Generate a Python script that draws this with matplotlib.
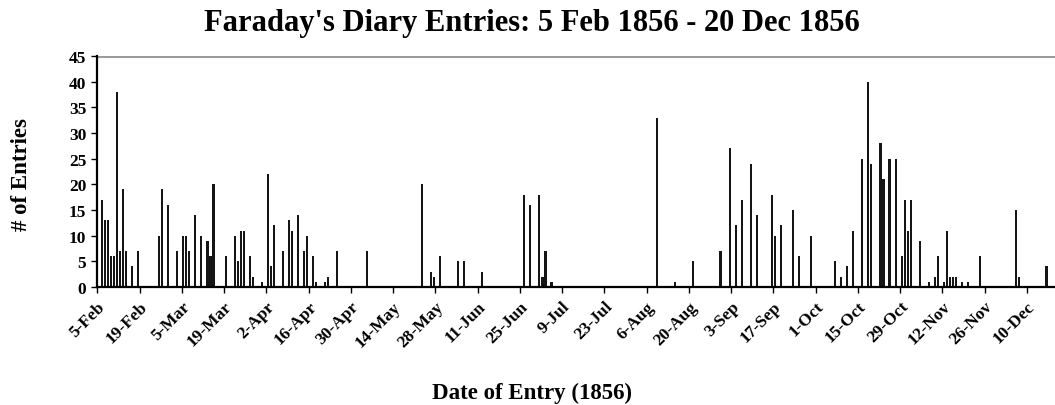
import matplotlib
matplotlib.use("Agg")
import matplotlib.pyplot as plt

# Day offsets from 5 Feb 1856 and number of diary entries on that day
day_offset = [1, 2, 3, 4, 5, 6, 7, 8, 9, 11, 13,
              20, 21, 23, 26, 28, 29, 30, 32, 34, 36, 37, 38,
              42, 45, 46, 47, 48, 50, 51, 54, 56, 57, 58, 61, 63, 64, 66, 68, 69,
              71, 72, 75, 76, 79, 89,
              107, 110, 111, 113, 119, 121, 127, 141, 143, 146, 147, 148, 150,
              185, 191, 197, 206, 209, 211, 213, 216, 218, 223, 224, 226, 230, 232, 236,
              244, 246, 248, 250, 253, 255, 256, 259, 260, 262, 264, 266, 267, 268, 269,
              272, 275, 277, 278, 280, 281, 282, 283, 284, 286, 288, 292, 304, 305, 314]
entries = [17, 13, 13, 6, 6, 38, 7, 19, 7, 4, 7,
           10, 19, 16, 7, 10, 10, 7, 14, 10, 9, 6, 20,
           6, 10, 5, 11, 11, 6, 2, 1, 22, 4, 12, 7, 13, 11, 14, 7, 10,
           6, 1, 1, 2, 7, 7,
           20, 3, 2, 6, 5, 5, 3, 18, 16, 18, 2, 7, 1,
           33, 1, 5, 7, 27, 12, 17, 24, 14, 18, 10, 12, 15, 6, 10,
           5, 2, 4, 11, 25, 40, 24, 28, 21, 25, 25, 6, 17, 11, 17,
           9, 1, 2, 6, 1, 11, 2, 2, 2, 1, 1, 6, 15, 2, 4]

tick_labels = ["5-Feb", "19-Feb", "5-Mar", "19-Mar", "2-Apr", "16-Apr", "30-Apr",
               "14-May", "28-May", "11-Jun", "25-Jun", "9-Jul", "23-Jul", "6-Aug",
               "20-Aug", "3-Sep", "17-Sep", "1-Oct", "15-Oct", "29-Oct", "12-Nov",
               "26-Nov", "10-Dec"]
y_ticks = [0, 5, 10, 15, 20, 25, 30, 35, 40, 45]

serif = ["Liberation Serif", "DejaVu Serif"]

fig = plt.figure(figsize=(10.55, 4.06), dpi=100)
ax = fig.add_axes([97.3 / 1055, 118 / 406, (1055 - 97.3) / 1055, 231 / 406])

x_centres = [d + 0.5 for d in day_offset]
ax.bar(x_centres, entries, width=0.7, color="#151515", linewidth=0)

ax.axhline(45, color="#9a9a9a", linewidth=2.2, zorder=0)

ax.set_xlim(0, (1055 - 97.3) / 3.018)
ax.set_ylim(0, 45)

ax.set_xticks([14 * i for i in range(len(tick_labels))])
ax.set_xticklabels(tick_labels, rotation=45, ha="right", rotation_mode="anchor",
                   fontsize=12.5, fontweight="bold", family=serif)
ax.set_yticks(y_ticks)
ax.set_yticklabels([str(v) for v in y_ticks], fontsize=12.5, fontweight="bold", family=serif)

for side in ["top", "right"]:
    ax.spines[side].set_visible(False)
for side in ["left", "bottom"]:
    ax.spines[side].set_linewidth(1.6)
    ax.spines[side].set_color("black")
ax.tick_params(axis="both", direction="out", length=4, width=1.0, colors="black")
ax.tick_params(axis="x", pad=4)
ax.tick_params(axis="y", pad=4)

fig.text(22 / 1055, 1 - 175 / 406, "# of Entries", rotation=90, ha="center", va="center",
         fontsize=16.5, fontweight="bold", family=serif)
fig.text(532 / 1055, 1 - 393 / 406, "Date of Entry (1856)", ha="center", va="center",
         fontsize=16.5, fontweight="bold", family=serif)
fig.text(532 / 1055, 1 - 24 / 406, "Faraday's Diary Entries: 5 Feb 1856 - 20 Dec 1856",
         ha="center", va="center", fontsize=22, fontweight="bold", family=serif)

fig.savefig("out.png", dpi=100)
